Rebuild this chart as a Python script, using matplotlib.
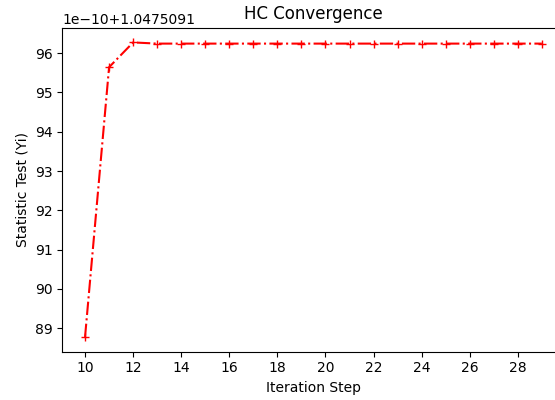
import numpy as np
import matplotlib
matplotlib.use("Agg")
import matplotlib.pyplot as plt

base = 1.0475091
steps = list(range(10, 30))
# statistic values in units of 1e-10 above the base
yi_offset = [88.78, 95.64, 96.27] + [96.24] * 17

yi = [base + v * 1e-10 for v in yi_offset]

fig = plt.figure(figsize=(5.55, 4.0), dpi=100)
ax = fig.add_axes([62.2 / 555, 48.3 / 400, 502.5 / 555, 324 / 400])
ax.plot(steps, yi, 'r-.+')
ax.set_xticks(range(10, 30, 2))
ax.set_title("HC Convergence")
ax.set_xlabel("Iteration Step")
ax.set_ylabel("Statistic Test (Yi)")
fig.savefig("out.png", dpi=100)
